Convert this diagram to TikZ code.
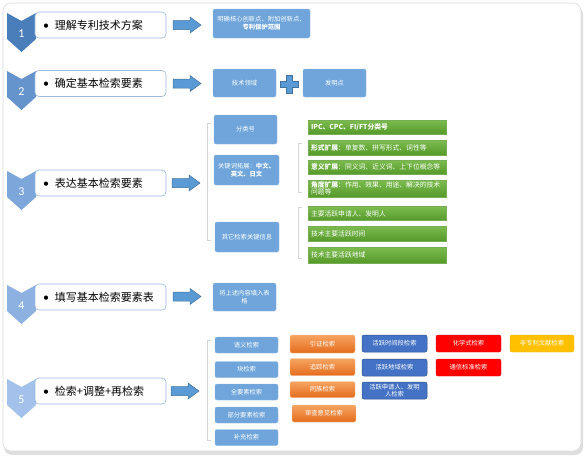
\documentclass[tikz,border=0pt]{standalone}
\usepackage{fontspec}
\setmainfont{Noto Sans CJK SC}
\newfontfamily\numfont{Carlito}
\definecolor{edgeblue}{HTML}{9DB9DC}
\definecolor{boxblue}{HTML}{6FA5DA}
\definecolor{boxblueedge}{HTML}{8DB8E3}
\definecolor{arrblue}{HTML}{5B9BD5}
\definecolor{arredge}{HTML}{41719C}
\definecolor{grtop}{HTML}{7DBC4F}
\definecolor{grbot}{HTML}{559A2A}
\definecolor{ortop}{HTML}{F6A461}
\definecolor{orbot}{HTML}{E46C1C}
\definecolor{dkblue}{HTML}{4472C4}
\definecolor{dkedge}{HTML}{2F528F}
\definecolor{brk}{HTML}{D5D5D5}
\definecolor{cvA}{HTML}{4A7EBB}
\definecolor{cvB}{HTML}{6594CD}
\definecolor{cvC}{HTML}{7DA6DA}
\definecolor{cvD}{HTML}{8DB1E1}
\definecolor{cvE}{HTML}{A3C1EA}
\newcommand\blockarr[2]{\draw[arrowsty] (#1,#2-4.5) -- ++(17,0) -- ++(0,-3.5) -- ++(11,8) -- ++(-11,8) -- ++(0,-3.5) -- ++(-17,0) -- cycle;}
\newcommand\chev[3]{\fill[#3] (7,#2+1) -- (21.5,#2+9) -- (36,#2+1) -- (36,#2+27) -- (21.5,#2+40) -- (7,#2+27) -- cycle;
  \node[numsty] (n#1) at (21.5,#2+22) {#1};}
\newcommand\bul{{\numfont\fontsize{12}{13}\selectfont•}\hspace{6pt}}
\begin{document}
\begin{tikzpicture}[x=1pt,y=-1pt,
  whitebox/.style={draw=edgeblue, fill=white, rounded corners=4pt, line width=0.6pt,
    minimum width=131pt, minimum height=26pt, inner xsep=8pt, inner ysep=0pt,
    text width=115pt, align=left, font=\fontsize{11}{13}\selectfont},
  numsty/.style={text=white, font=\numfont\fontsize{12}{12}\selectfont, inner sep=0pt},
  bluebox/.style={fill=boxblue, draw=boxblueedge, line width=0.4pt, rounded corners=2pt,
    text=white, font=\fontsize{6.3}{8}\selectfont, align=center, inner sep=1pt},
  greenbox/.style={top color=grtop, bottom color=grbot, draw=grbot!80!white, line width=0.3pt,
    text=white, font=\fontsize{6.8}{8}\selectfont, align=left, minimum width=138pt,
    text width=132pt, inner xsep=3pt, inner ysep=0pt},
  orbox/.style={top color=ortop, bottom color=orbot, draw=ortop!70!white, line width=0.4pt, rounded corners=2pt,
    text=white, font=\fontsize{6.3}{8}\selectfont, align=center, inner sep=1pt},
  dkbox/.style={fill=dkblue, draw=dkedge, line width=0.5pt, rounded corners=2pt,
    text=white, font=\fontsize{6.3}{7.5}\selectfont, align=center, inner sep=1pt},
  redbox/.style={fill=red, draw=red!85!black, line width=0.4pt, rounded corners=2pt,
    text=white, font=\fontsize{6.3}{8}\selectfont, align=center, inner sep=1pt},
  yelbox/.style={fill={rgb,255:red,255;green,192;blue,0}, draw={rgb,255:red,240;green,180;blue,0}, line width=0.4pt, rounded corners=2pt,
    text=white, font=\fontsize{6.3}{8}\selectfont, align=center, inner sep=1pt},
  arrowsty/.style={fill=arrblue, draw=arredge, line width=0.5pt},
  brksty/.style={draw=brk, line width=0.6pt}
]
\useasboundingbox (0,0) rectangle (588,459);
% frame
\fill[gray!25, rounded corners=8pt] (4,6) rectangle (583,455);
\draw[draw=gray!30, fill=white, rounded corners=8pt, line width=0.6pt] (3,3) rectangle (581,451);

% chevrons
\chev{1}{12}{cvA}
\chev{2}{70}{cvB}
\chev{3}{170}{cvC}
\chev{4}{284}{cvD}
\chev{5}{378}{cvE}

% white boxes
\node[whitebox] (w1) at (100.5,25) {\bul 理解专利技术方案};
\node[whitebox] (w2) at (100.5,83.5) {\bul 确定基本检索要素};
\node[whitebox] (w3) at (100.5,183) {\bul 表达基本检索要素};
\node[whitebox] (w4) at (100.5,297) {\bul 填写基本检索要素表};
\node[whitebox] (w5) at (100.5,391) {\bul 检索+调整+再检索};

% block arrows
\blockarr{173}{25}
\blockarr{173}{83.5}
\blockarr{172}{183}
\blockarr{173}{296.5}
\blockarr{171}{391}

% row 1
\node[bluebox, minimum width=97pt, minimum height=29pt] (b1) at (261.5,23.5) {明确核心创新点、附加创新点、\\\textbf{专利保护范围}};
% row 2
\node[bluebox, minimum width=63pt, minimum height=28pt] (b2a) at (244.5,83) {技术领域};
\node[bluebox, minimum width=63pt, minimum height=28pt] (b2b) at (334.5,83) {发明点};
\fill[arrblue, draw=arredge, line width=0.5pt] (286.5,75) rectangle (292.5,93);
\fill[arrblue] (280.5,81) rectangle (298.5,87);
\draw[arredge, line width=0.5pt] (286.5,81) -- (280.5,81) -- (280.5,87) -- (286.5,87)
  (292.5,81) -- (298.5,81) -- (298.5,87) -- (292.5,87);
\fill[arrblue] (286.75,81.25) rectangle (292.25,86.75);
\node[inner sep=0pt] (plus) at (289.5,84) {};

% row 3
\draw[brksty] (211,123) -- (207,123) -- (207,240) -- (211,240);
\node[bluebox, minimum width=63pt, minimum height=29pt] (c1) at (245.5,129.5) {分类号};
\node[bluebox, minimum width=65pt, minimum height=30pt, text width=61pt] (c2) at (246.5,170) {关键词拓展：\textbf{中文、}\\\textbf{英文、日文}};
\node[bluebox, minimum width=64pt, minimum height=30pt] (c3) at (247,237) {其它检索关键信息};

\draw[brksty] (302,143) -- (298,143) -- (298,192) -- (302,192);
\draw[brksty] (302,207) -- (298,207) -- (298,258) -- (302,258);
\node[greenbox, minimum height=14pt] (g1) at (377,127) {\textbf{IPC、CPC、FI/FT分类号}};
\node[greenbox, minimum height=15pt] (g2) at (377,147.5) {\textbf{形式扩展}：单复数、拼写形式、词性等};
\node[greenbox, minimum height=14pt] (g3) at (377,167) {\textbf{意义扩展}：同义词、近义词、上下位概念等};
\node[greenbox, minimum height=17pt, font=\fontsize{6.8}{7.2}\selectfont] (g4) at (377,188.5) {\textbf{角度扩展}：作用、效果、用途、解决的技术\\问题等};
\node[greenbox, minimum height=14pt] (g5) at (377,213.5) {主要活跃申请人、发明人};
\node[greenbox, minimum height=15pt] (g6) at (377,233.5) {技术主要活跃时间};
\node[greenbox, minimum height=16pt] (g7) at (377,255) {技术主要活跃地域};

% row 4
\node[bluebox, minimum width=63pt, minimum height=28pt] (d1) at (244.5,297) {将上述内容填入表\\格};

% row 5
\draw[brksty] (211,340) -- (207,340) -- (207,440) -- (211,440);
\node[bluebox, minimum width=63pt, minimum height=16pt] (e1) at (246.5,345) {语义检索};
\node[bluebox, minimum width=63pt, minimum height=16pt] (e2) at (246.5,369.5) {块检索};
\node[bluebox, minimum width=63pt, minimum height=16pt] (e3) at (246.5,392) {全要素检索};
\node[bluebox, minimum width=63pt, minimum height=16pt] (e4) at (246.5,415) {部分要素检索};
\node[bluebox, minimum width=63pt, minimum height=16pt] (e5) at (246.5,437.5) {补充检索};

\node[orbox, minimum width=65pt, minimum height=18pt] (o1) at (322.5,344) {引证检索};
\node[orbox, minimum width=65pt, minimum height=17pt] (o2) at (322.5,367) {追踪检索};
\node[orbox, minimum width=65pt, minimum height=16pt] (o3) at (322.5,389.5) {同族检索};
\node[orbox, minimum width=64pt, minimum height=17pt] (o4) at (324,413.5) {审查意见检索};

\node[dkbox, minimum width=65pt, minimum height=17pt] (k1) at (394.5,343.5) {活跃时间段检索};
\node[dkbox, minimum width=65pt, minimum height=17pt] (k2) at (394.5,367.5) {活跃地域检索};
\node[dkbox, minimum width=65pt, minimum height=17pt] (k3) at (394.5,390.5) {活跃申请人、发明\\人检索};

\node[redbox, minimum width=65pt, minimum height=17pt] (r1) at (468.5,343.5) {化学式检索};
\node[redbox, minimum width=65pt, minimum height=17pt] (r2) at (468.5,367.5) {通信标准检索};

\node[yelbox, minimum width=64pt, minimum height=17pt] (y1) at (542,343.5) {非专利文献检索};
\end{tikzpicture}
\end{document}
